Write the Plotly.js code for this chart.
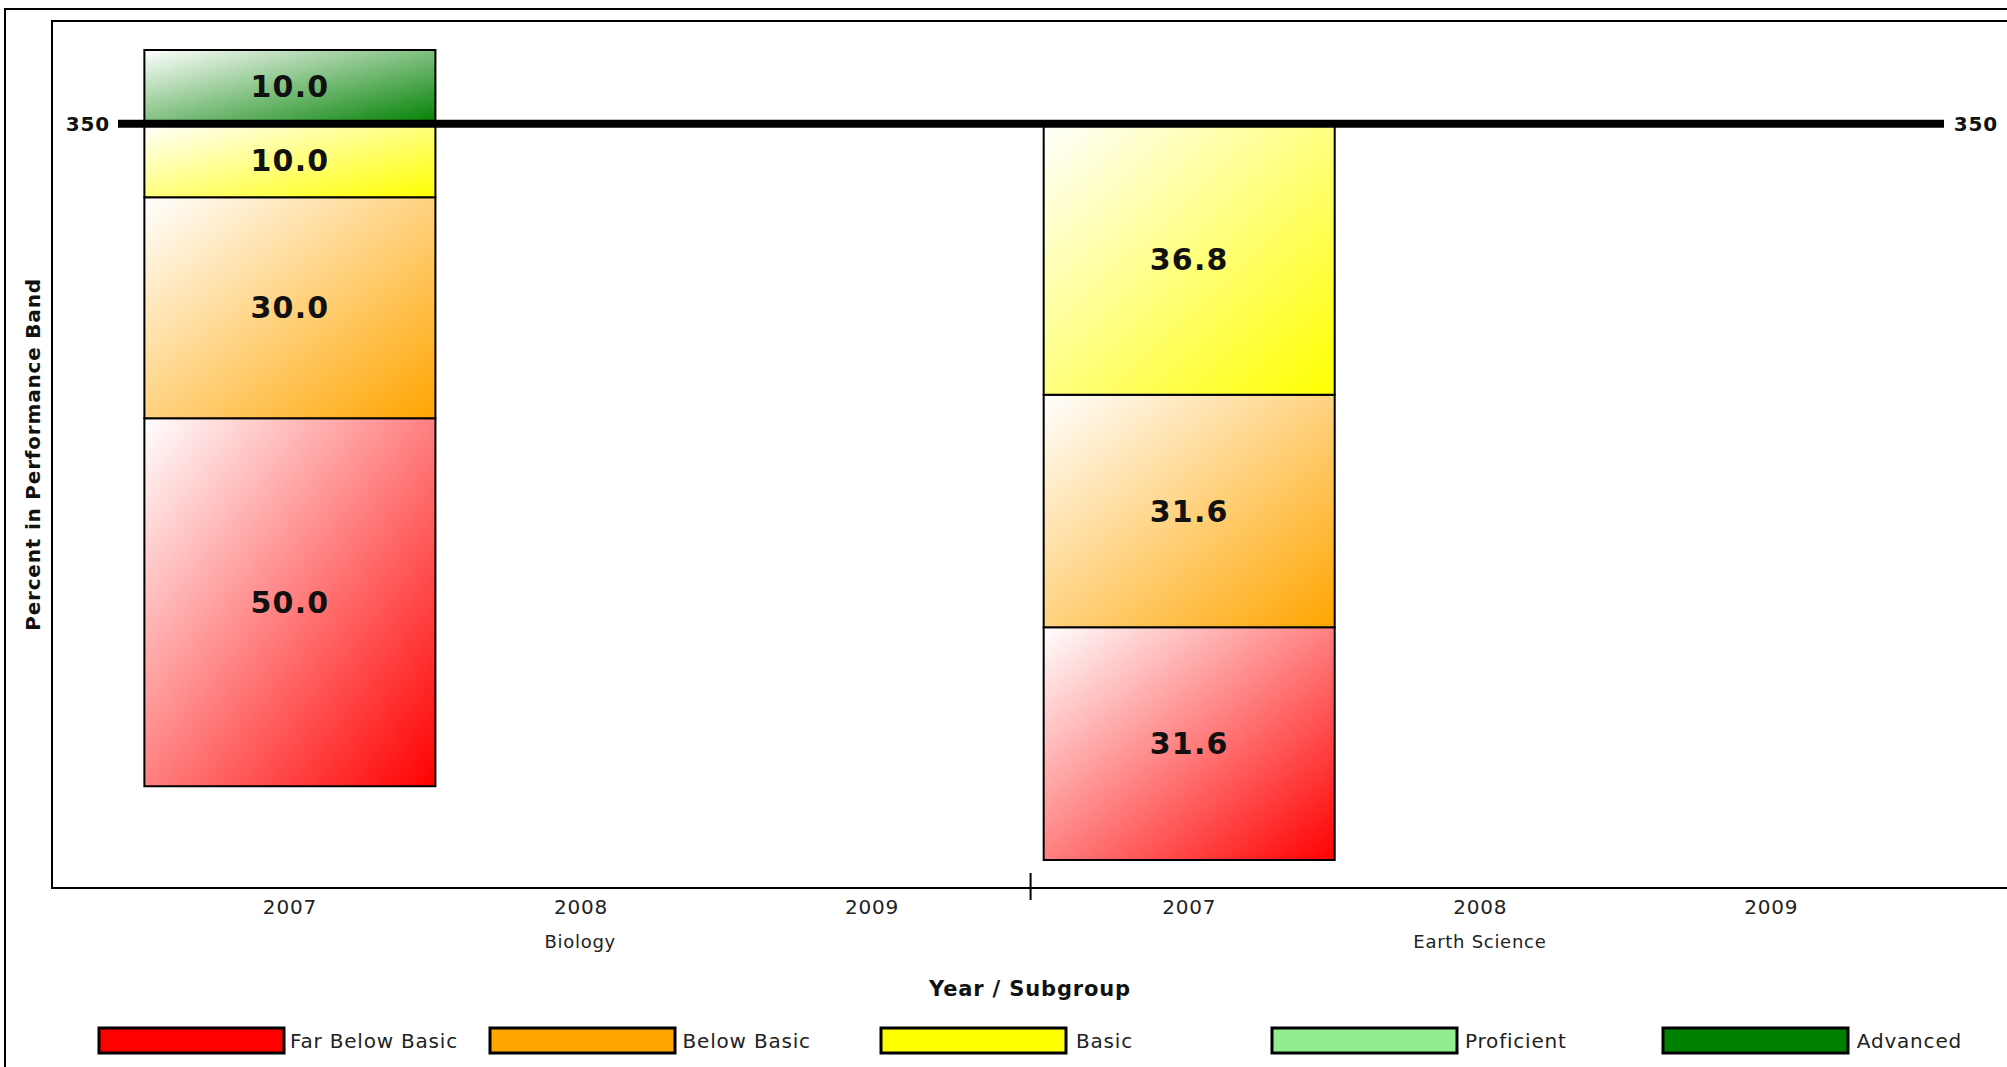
<!DOCTYPE html>
<html>
<head>
<meta charset="utf-8">
<script src="https://cdn.plot.ly/plotly-3.0.1.min.js"></script>
<style>
  html, body { margin: 0; padding: 0; background: #ffffff; }
  #chart { width: 2007px; height: 1067px; }
  #chart svg text { letter-spacing: 0.04em; }
</style>
</head>
<body>
<div id="chart"></div>
<script>
// ---------------- DATA ----------------
const subjects = ["Biology", "Earth Science"];
const years = ["2007", "2008", "2009"];
const bandNames = ["Far Below Basic", "Below Basic", "Basic", "Proficient", "Advanced"];
const bandColors = ["#FF0000", "#FFA500", "#FFFF00", "#90EE90", "#008000"];
// values ordered: Biology 2007, 2008, 2009, Earth Science 2007, 2008, 2009
const farBelowBasic = [50.0, null, null, 31.6, null, null];
const belowBasic    = [30.0, null, null, 31.6, null, null];
const basic         = [10.0, null, null, 36.8, null, null];
const proficient    = [0.0,  null, null, 0.0,  null, null];
const advanced      = [10.0, null, null, 0.0,  null, null];
const cutScoreLabel = "350";
const cutIndex = 3; // bands from "Proficient" upward sit above the cut line

// ---------------- BUILD ----------------
const series = [farBelowBasic, belowBasic, basic, proficient, advanced];
const groupGap = 0.09;
const xPos = [];
subjects.forEach((s, gi) => years.forEach((y, yi) => xPos.push(gi * (years.length + groupGap) + yi)));
const tickText = [];
subjects.forEach(() => years.forEach(y => tickText.push(y)));

function baseFor(k, j) {
  let b = 0;
  if (k < cutIndex) {
    for (let m = k; m < cutIndex; m++) b -= (series[m][j] || 0);
  } else {
    for (let m = cutIndex; m < k; m++) b += (series[m][j] || 0);
  }
  return b;
}

const FONT = "DejaVu Sans, Verdana, sans-serif";
const traces = series.map((vals, k) => ({
  type: "bar",
  name: bandNames[k],
  x: xPos,
  y: vals,
  base: vals.map((v, j) => (v === null ? null : baseFor(k, j))),
  width: 1.0,
  text: vals.map(v => (v !== null && v > 0 ? "<b>" + v.toFixed(1) + "</b>" : "")),
  textposition: "inside",
  insidetextanchor: "middle",
  textangle: 0,
  constraintext: "none",
  textfont: { family: FONT, size: 30, color: "#111111" },
  marker: { color: bandColors[k], line: { color: "#000000", width: 2 } },
  showlegend: false,
  hoverinfo: "skip"
}));

// plot area in pixels (for paper conversions)
const W = 2007, H = 1067;
const mL = 53, mR = 0, mT = 22, mB = 180;
const pw = W - mL - mR, ph = H - mT - mB;
const px = x => (x - mL) / pw;
const py = y => (H - mB - y) / ph;

const shapes = [];
const annotations = [];

// outer frame
shapes.push({ type: "rect", xref: "paper", yref: "paper", x0: px(5), x1: 1.05, y0: -0.3, y1: py(9),
  line: { color: "#000", width: 2 }, fillcolor: "rgba(0,0,0,0)", layer: "below" });
// cut score line
shapes.push({ type: "line", xref: "paper", yref: "y", x0: px(118), x1: px(1944), y0: 0, y1: 0,
  line: { color: "#000", width: 8 }, layer: "above" });
annotations.push({ xref: "paper", yref: "y", x: px(111), y: 0, xanchor: "right", yanchor: "middle",
  text: "<b>" + cutScoreLabel + "</b>", showarrow: false, font: { family: FONT, size: 20, color: "#111" } });
annotations.push({ xref: "paper", yref: "y", x: px(1953), y: 0, xanchor: "left", yanchor: "middle",
  text: "<b>" + cutScoreLabel + "</b>", showarrow: false, font: { family: FONT, size: 20, color: "#111" } });

// group dividers and group labels
subjects.forEach((s, gi) => {
  const first = xPos[gi * years.length], last = xPos[gi * years.length + years.length - 1];
  annotations.push({ xref: "x", yref: "paper", x: (first + last) / 2, y: py(942), xanchor: "center", yanchor: "middle",
    text: s, showarrow: false, font: { family: FONT, size: 18, color: "#222" } });
  if (gi > 0) {
    const prevLast = xPos[gi * years.length - 1];
    shapes.push({ type: "line", xref: "x", yref: "paper", x0: (prevLast + first) / 2, x1: (prevLast + first) / 2,
      y0: py(900), y1: py(873), line: { color: "#000", width: 2 } });
  }
});

// custom legend
bandNames.forEach((n, k) => {
  const x0 = 99 + 391.0 * k;
  shapes.push({ type: "rect", xref: "paper", yref: "paper", x0: px(x0), x1: px(x0 + 185), y0: py(1053), y1: py(1028),
    fillcolor: bandColors[k], line: { color: "#000", width: 3 } });
  annotations.push({ xref: "paper", yref: "paper", x: px(x0 + 195), y: py(1041), xanchor: "left", yanchor: "middle",
    text: n, showarrow: false, font: { family: FONT, size: 20, color: "#222" } });
});

const layout = {
  width: W, height: H,
  margin: { l: mL, r: mR, t: mT, b: mB, pad: 0 },
  paper_bgcolor: "#ffffff", plot_bgcolor: "#ffffff",
  barmode: "overlay",
  showlegend: false,
  font: { family: FONT, color: "#111" },
  xaxis: {
    range: [-0.814, 5.9],
    tickvals: xPos, ticktext: tickText,
    ticks: "outside", ticklen: 1, tickcolor: "rgba(0,0,0,0)",
    tickfont: { family: FONT, size: 20, color: "#222" },
    showline: true, linecolor: "#000", linewidth: 2, mirror: true,
    showgrid: false, zeroline: false, fixedrange: true,
    title: { text: "<b>Year / Subgroup</b>", standoff: 63, font: { family: FONT, size: 21, color: "#111" } }
  },
  yaxis: {
    range: [-103.67, 13.82],
    showticklabels: false, ticks: "",
    showline: true, linecolor: "#000", linewidth: 2, mirror: false,
    showgrid: false, zeroline: false, fixedrange: true,
    title: { text: "<b>Percent in Performance Band</b>", standoff: 5, font: { family: FONT, size: 20, color: "#111" } }
  },
  shapes: shapes,
  annotations: annotations
};

const gd = document.getElementById("chart");
Plotly.newPlot(gd, traces, layout, { displayModeBar: false, staticPlot: true }).then(() => {
  // diagonal white -> colour gradient fills for bar segments
  const svgNS = "http://www.w3.org/2000/svg";
  const defs = gd.querySelector(".main-svg defs");
  bandColors.forEach((c, k) => {
    const g = document.createElementNS(svgNS, "linearGradient");
    g.setAttribute("id", "bandgrad" + k);
    g.setAttribute("x1", "0"); g.setAttribute("y1", "0");
    g.setAttribute("x2", "1"); g.setAttribute("y2", "1");
    const s0 = document.createElementNS(svgNS, "stop");
    s0.setAttribute("offset", "0"); s0.setAttribute("stop-color", "#ffffff");
    const s1 = document.createElementNS(svgNS, "stop");
    s1.setAttribute("offset", "1"); s1.setAttribute("stop-color", c);
    g.appendChild(s0); g.appendChild(s1);
    defs.appendChild(g);
  });
  const traceGroups = gd.querySelectorAll(".barlayer .trace");
  traceGroups.forEach((tg, k) => {
    tg.querySelectorAll("path").forEach(p => { p.style.fill = "url(#bandgrad" + k + ")"; });
  });
});
</script>
</body>
</html>
